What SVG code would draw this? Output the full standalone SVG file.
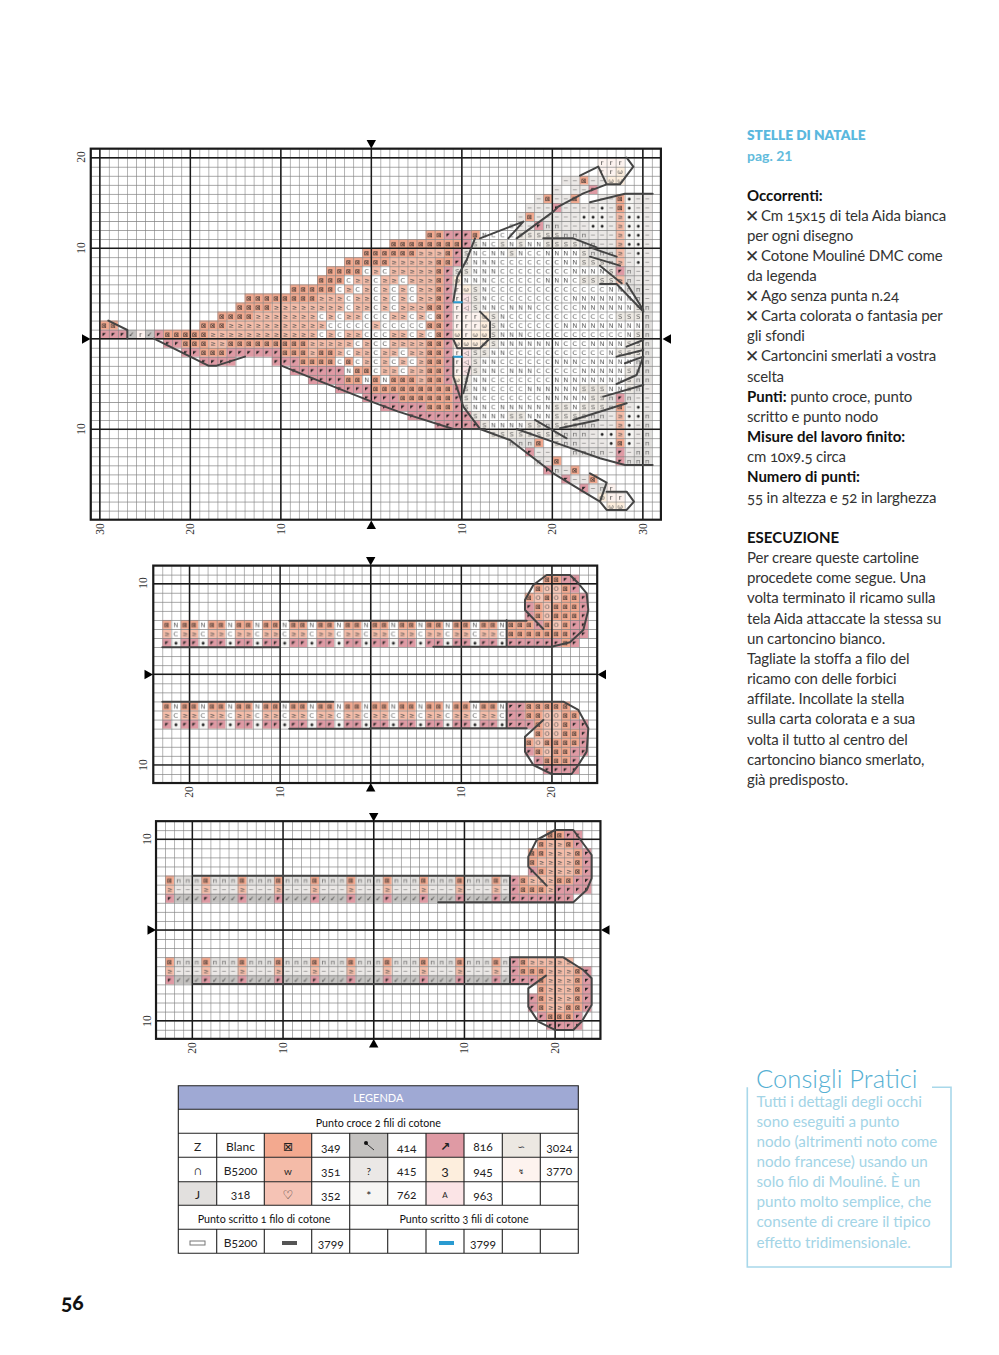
<svg xmlns="http://www.w3.org/2000/svg" width="999" height="1355" viewBox="0 0 999 1355">
<style>
.st path,.st rect{fill:none;stroke-width:1}
.g{font:.72px "DejaVu Sans",sans-serif;text-anchor:middle}
.lg{fill:#555}.dk{fill:#222}
.a{stroke:url(#a)}.b{stroke:url(#b)}.h{stroke:url(#h)}.d{stroke:url(#d)}.n{stroke:url(#n)}.c{stroke:url(#c)}.s{stroke:url(#s)}.q{stroke:url(#q)}.t{stroke:url(#t)}.k{stroke:url(#k)}.r{stroke:url(#r)}.m{stroke:url(#m)}.f{stroke:url(#f)}.gg{stroke:url(#gg)}
.st .heavy{fill:none;stroke:#1a1a1a;stroke-width:.16}
.ol{fill:none;stroke:#444;stroke-width:6;stroke-linejoin:round;stroke-linecap:round}
.tick{font:11.5px "Liberation Serif",serif;fill:#333;text-anchor:middle}
.tb{font:12px Lato,sans-serif;fill:#222;text-anchor:middle;font-variant-numeric:oldstyle-nums}
.sub{font:10.7px Lato,sans-serif;fill:#111;text-anchor:middle;font-variant-numeric:oldstyle-nums}
.side{font:15px Lato,sans-serif;letter-spacing:-.15px;fill:#333;font-variant-numeric:oldstyle-nums}
.bold{font-weight:700;fill:#111;letter-spacing:0}
.x{font:17px "DejaVu Sans",sans-serif;fill:#333}
.tip{font:15.2px Lato,sans-serif;fill:#a3d4e6}
</style>
<defs>
<pattern id="grid" width="1" height="1" patternUnits="userSpaceOnUse"><path d="M0 0H1M0 0V1" fill="none" stroke="#808080" stroke-width=".13"/></pattern>
<pattern id="a" width="1" height="1" patternUnits="userSpaceOnUse"><rect width="1" height="1" fill="#f2a98f"/><text x=".5" y=".78" class="g dk">⊠</text></pattern>
<pattern id="b" width="1" height="1" patternUnits="userSpaceOnUse"><rect width="1" height="1" fill="#f5bda9"/><text x=".5" y=".78" class="g lg">≥</text></pattern>
<pattern id="h" width="1" height="1" patternUnits="userSpaceOnUse"><rect width="1" height="1" fill="#f6c6b6"/><text x=".5" y=".78" class="g lg">O</text></pattern>
<pattern id="d" width="1" height="1" patternUnits="userSpaceOnUse"><rect width="1" height="1" fill="#df9aa4"/><text x=".5" y=".7" class="g dk" style="font-size:.5px">◤</text></pattern>
<pattern id="n" width="1" height="1" patternUnits="userSpaceOnUse"><rect width="1" height="1" fill="#fff"/><text x=".5" y=".78" class="g lg">N</text></pattern>
<pattern id="c" width="1" height="1" patternUnits="userSpaceOnUse"><rect width="1" height="1" fill="#fff"/><text x=".5" y=".78" class="g lg">C</text></pattern>
<pattern id="s" width="1" height="1" patternUnits="userSpaceOnUse"><rect width="1" height="1" fill="#ece8e2"/><text x=".5" y=".78" class="g lg">S</text></pattern>
<pattern id="q" width="1" height="1" patternUnits="userSpaceOnUse"><rect width="1" height="1" fill="#ebe8e6"/><text x=".5" y=".74" class="g lg">~</text></pattern>
<pattern id="t" width="1" height="1" patternUnits="userSpaceOnUse"><rect width="1" height="1" fill="#f6f5f3"/><text x=".5" y=".66" class="g dk" style="font-size:.42px">●</text></pattern>
<pattern id="k" width="1" height="1" patternUnits="userSpaceOnUse"><rect width="1" height="1" fill="#e2e0de"/><text x=".5" y=".74" class="g lg">п</text></pattern>
<pattern id="r" width="1" height="1" patternUnits="userSpaceOnUse"><rect width="1" height="1" fill="#fdf3ef"/><text x=".5" y=".74" class="g dk">r</text></pattern>
<pattern id="m" width="1" height="1" patternUnits="userSpaceOnUse"><rect width="1" height="1" fill="#fdeedd"/><text x=".5" y=".74" class="g lg">ω</text></pattern>
<pattern id="f" width="1" height="1" patternUnits="userSpaceOnUse"><rect width="1" height="1" fill="#fbe4e6"/><text x=".5" y=".74" class="g lg">◁</text></pattern>
<pattern id="gg" width="1" height="1" patternUnits="userSpaceOnUse"><rect width="1" height="1" fill="#c4c2c0"/><text x=".5" y=".78" class="g dk">✓</text></pattern>
<pattern id="p2" x="1" width="3" height="3" patternUnits="userSpaceOnUse"><g class="st"><path class="a" d="M0 .5h1M2 .5h1"/><path class="n" d="M1 .5h1"/><path class="b" d="M0 1.5h1M2 1.5h1"/><path class="c" d="M1 1.5h1"/><path class="d" d="M0 2.5h1M2 2.5h1"/><path class="t" d="M1 2.5h1"/></g></pattern>
<pattern id="p3" x="1" width="4" height="3" patternUnits="userSpaceOnUse"><g class="st"><path class="a" d="M0 .5h1"/><path class="k" d="M1 .5h3"/><path class="b" d="M0 1.5h1"/><path class="q" d="M1 1.5h3"/><path class="d" d="M0 2.5h1"/><path class="gg" d="M1 2.5h3"/></g></pattern>
<path id="tri" d="M-4.7-8.5h9.4L0 0z"/>
</defs>
<rect width="999" height="1355" fill="#fff"/>

<g id="chart1">
<g transform="translate(371.3 338.7) scale(9.05)" class="st">
<path class="a" d="M23-17.5h1M19-15.5h1M22-15.5h1M27-15.5h1M27-14.5h1M17-13.5h1M6-11.5h2M11-11.5h1M2-10.5h8M-1-9.5h6M8-9.5h1M-3-8.5h5M7-8.5h2M-5-7.5h4M7-7.5h1M-6-6.5h3M7-6.5h1M-9-5.5h5M7-5.5h1M-14-4.5h8M7-4.5h1M-15-3.5h4M6-3.5h2M-17-2.5h4M7-2.5h1M-30-1.5h2M-19-1.5h3M6-1.5h2M-23-.5h5M7-.5h1M-21 .5h3M-16 .5h9M6 .5h2M-19 1.5h3M-10 1.5h3M-6 1.5h2M6 1.5h2M-8 2.5h4M-3 2.5h1M6 2.5h2M-2 3.5h2M6 3.5h2M-3 4.5h2M0 4.5h1M2 4.5h3M6 4.5h2M0 5.5h9M3 6.5h6M6 7.5h3M27 7.5h1M18 11.5h1M27 11.5h1M20 13.5h1M22 14.5h1M24 15.5h1"/>
<path class="b" d="M27-13.5h1M27-12.5h1M27-11.5h1M27-10.5h1M5-9.5h3M27-9.5h1M2-8.5h5M27-8.5h1M0-7.5h1M2-7.5h5M-2-6.5h2M1-6.5h2M4-6.5h3M27-6.5h1M-3-5.5h1M-1-5.5h1M1-5.5h1M3-5.5h1M5-5.5h2M-6-4.5h3M-2-4.5h2M1-4.5h1M3-4.5h1M5-4.5h2M-11-3.5h8M-2-3.5h2M1-3.5h1M3-3.5h3M-13-2.5h7M-5-2.5h1M-3-2.5h2M2-2.5h2M5-2.5h1M-16-1.5h11M0-1.5h1M-18-.5h12M-5-.5h1M-3-.5h2M2-.5h2M5-.5h1M-18 .5h2M-7 .5h5M-1 .5h1M2 .5h4M-7 1.5h1M-4 1.5h1M-2 1.5h2M1 1.5h2M4 1.5h2M-1 2.5h1M1 2.5h1M3 2.5h1M5 2.5h1M1 3.5h2M4 3.5h2M5 4.5h1M27 8.5h1M27 9.5h1M27 10.5h1"/>
<path class="c" d="M15-12.5h1M13-11.5h3M13-10.5h1M12-9.5h1M17-9.5h2M14-8.5h7M-1-7.5h1M1-7.5h1M14-7.5h8M-3-6.5h1M0-6.5h1M3-6.5h1M13-6.5h6M22-6.5h1M-4-5.5h1M-2-5.5h1M0-5.5h1M2-5.5h1M4-5.5h1M13-5.5h13M-3-4.5h1M0-4.5h1M2-4.5h1M4-4.5h1M13-4.5h9M-3-3.5h1M0-3.5h1M2-3.5h1M14-3.5h1M18-3.5h5M-6-2.5h1M-4-2.5h1M-1-2.5h3M4-2.5h1M6-2.5h1M15-2.5h12M-5-1.5h5M1-1.5h5M15-1.5h6M-6-.5h1M-4-.5h1M-1-.5h3M4-.5h1M6-.5h1M17-.5h11M-2 .5h1M0 .5h2M21 .5h3M-3 1.5h1M0 1.5h1M3 1.5h1M15 1.5h11M-4 2.5h1M-2 2.5h1M0 2.5h1M2 2.5h1M4 2.5h1M14 2.5h6M23 2.5h1M0 3.5h1M3 3.5h1M14 3.5h1M18 3.5h5M13 4.5h7M13 5.5h4M12 6.5h7M13 7.5h1"/>
<path class="n" d="M12-11.5h1M12-10.5h1M15-10.5h1M17-10.5h2M11-9.5h1M13-9.5h2M16-9.5h1M19-9.5h4M11-8.5h3M21-8.5h2M11-7.5h3M22-7.5h4M10-6.5h3M19-6.5h3M12-5.5h1M26-5.5h2M12-4.5h1M22-4.5h7M12-3.5h2M15-3.5h3M23-3.5h6M14-2.5h1M14-1.5h1M21-1.5h9M14-.5h3M28-.5h1M14 .5h7M24 .5h4M13 1.5h2M26 1.5h1M12 2.5h2M20 2.5h3M24 2.5h5M-3 3.5h1M12 3.5h2M15 3.5h3M23 3.5h5M-1 4.5h1M1 4.5h1M11 4.5h2M20 4.5h8M11 5.5h2M17 5.5h6M26 5.5h2M11 6.5h1M19 6.5h5M11 7.5h2M14 7.5h6M22 7.5h1M12 8.5h3M17 8.5h3M13 9.5h4"/>
<path class="s" d="M16-11.5h5M11-10.5h1M14-10.5h1M16-10.5h1M19-10.5h4M10-9.5h1M15-9.5h1M23-9.5h1M10-8.5h1M23-8.5h3M9-7.5h2M26-7.5h1M23-6.5h4M11-5.5h1M11-4.5h1M11-3.5h1M29-3.5h1M13-2.5h1M27-2.5h3M13-1.5h1M13-.5h1M29-.5h1M13 .5h1M28 .5h2M11 1.5h2M27 1.5h3M11 2.5h1M11 3.5h1M28 3.5h1M10 4.5h1M28 4.5h1M10 5.5h1M23 5.5h3M28 5.5h1M10 6.5h1M24 6.5h2M10 7.5h1M20 7.5h2M23 7.5h3M11 8.5h1M15 8.5h2M20 8.5h4M12 9.5h1M17 9.5h2M20 9.5h3M13 10.5h8M20 11.5h1"/>
<path class="d" d="M24-16.5h1M20-14.5h1M18-12.5h1M8-11.5h3M10-10.5h1M9-9.5h1M9-8.5h1M8-7.5h1M27-7.5h1M8-6.5h1M8-5.5h1M8-4.5h1M8-3.5h1M8-2.5h1M8-1.5h1M-30-.5h3M-24-.5h1M8-.5h1M-23 .5h2M8 .5h1M-21 1.5h2M-16 1.5h6M8 1.5h1M-19 2.5h4M-11 2.5h3M8 2.5h1M-9 3.5h6M8 3.5h1M-7 4.5h4M8 4.5h1M-4 5.5h4M9 5.5h1M-1 6.5h4M9 6.5h1M27 6.5h1M1 7.5h5M9 7.5h1M4 8.5h7M7 9.5h5M17 12.5h1M27 12.5h1M27 13.5h1M19 14.5h1M21 15.5h1M23 16.5h1"/>
<path class="q" d="M21-17.5h2M24-17.5h2M20-16.5h1M22-16.5h2M18-15.5h1M20-15.5h2M25-15.5h2M29-15.5h2M17-14.5h3M21-14.5h4M26-14.5h1M29-14.5h2M16-13.5h1M18-13.5h5M26-13.5h1M30-13.5h1M16-12.5h2M21-12.5h3M26-12.5h1M30-12.5h1M24-11.5h3M30-11.5h1M25-10.5h2M30-10.5h1M28-9.5h1M30-9.5h1M28-8.5h1M30-8.5h1M29-7.5h2M29-6.5h2M30-5.5h1M30-4.5h1M30 5.5h1M29 6.5h2M28 7.5h1M30 7.5h1M26 8.5h1M25 9.5h2M29 9.5h1M24 10.5h1M29 10.5h1M23 11.5h3M29 11.5h1M18 12.5h2M26 12.5h1M28 12.5h1M19 13.5h1M21 14.5h1M22 15.5h2M24 16.5h1"/>
<path class="t" d="M28-15.5h1M25-14.5h1M28-14.5h1M23-13.5h3M28-13.5h2M24-12.5h2M28-12.5h2M28-11.5h2M28-10.5h2M29-9.5h1M29-8.5h1M29 7.5h1M28 8.5h2M28 9.5h1M25 10.5h2M28 10.5h1M26 11.5h1M28 11.5h1"/>
<path class="k" d="M19-12.5h2M21-11.5h3M23-10.5h2M24-9.5h3M26-8.5h1M28-7.5h1M28-6.5h1M28-5.5h2M29-4.5h1M30-3.5h1M30-2.5h1M30-1.5h1M30-.5h1M30 .5h1M30 1.5h1M29 2.5h2M29 3.5h2M29 4.5h2M29 5.5h1M26 6.5h1M28 6.5h1M26 7.5h1M24 8.5h2M30 8.5h1M19 9.5h1M23 9.5h2M30 9.5h1M21 10.5h3M30 10.5h1M15 11.5h3M21 11.5h2M30 11.5h1M22 12.5h4M29 12.5h2M18 13.5h1M28 13.5h3M20 14.5h1M25 16.5h1"/>
<path class="r" d="M25-19.5h3M25-18.5h2M9-5.5h1M9-4.5h1M9-3.5h1M9-2.5h3M9-1.5h3M-26-.5h1M10-.5h1M9 1.5h1M9 2.5h1M9 3.5h1M26 16.5h1M26 17.5h2"/>
<path class="m" d="M27-18.5h1M26-17.5h2M9-6.5h1M10-5.5h1M12-2.5h1M12-1.5h1M9-.5h1M11-.5h2M9 .5h4M9 4.5h1M25 17.5h1M26 18.5h2"/>
<path class="f" d="M10-4.5h1M10-3.5h1M10 1.5h1M10 2.5h1M10 3.5h1"/>
<path class="gg" d="M-27-.5h1M-25-.5h1"/>
<rect x="-31" y="-21" width="63" height="41" style="fill:url(#grid);stroke:none"/>
<path class="heavy" d="M-30-21V20M-20-21V20M-10-21V20M0-21V20M10-21V20M20-21V20M30-21V20M-31-20H32M-31-10H32M-31 0H32M-31 10H32"/>
<rect x="-31" y="-21" width="63" height="41" style="fill:none;stroke:#1a1a1a;stroke-width:.24"/>
</g>
<g transform="translate(70 130) scale(.3333)"><path class="ol" d="M115 572L172 600V626M252 626L415 707H440L525 680M634 707L715 740L905 815"/></g>
<g transform="translate(370 130) scale(.3333)">
<path class="ol" d="M330 325L460 275L415 325M440 325L550 245L565 230L640 190L710 163L685 110L630 137M710 163H750L790 110L770 83M660 217L765 191H848M520 325H610L680 352M660 352L740 380M660 380L750 407M690 407L755 460M690 462H740L820 545M770 460L820 540M250 515L262 440L290 390L315 325M330 545L360 575V625L330 655H262L250 628M250 680V740L280 830L330 897H345M300 710L280 790M770 650L820 630M740 680L820 660M765 700L820 680L800 735L740 762M700 800L820 765M610 870L770 820M570 895L685 870M495 870L590 925M440 897L590 950L690 985L765 1005H848M4 815L85 845L250 897H330L420 930L550 1030L640 1085L690 1115L710 1058L660 1030M690 1115L710 1140H770L792 1115L770 1085H710"/>
<path d="M250 517H278M250 680H278" fill="none" stroke="#2a9bd1" stroke-width="6"/>
</g>
<use href="#tri" x="371.3" y="148.5"/>
<use href="#tri" transform="translate(371.3 520.5) scale(1 -1)"/>
<use href="#tri" transform="translate(90.5 339) rotate(-90)"/>
<use href="#tri" transform="translate(662.5 339) rotate(90)"/>
<text class="tick" transform="translate(85 157) rotate(-90)">20</text>
<text class="tick" transform="translate(85 248) rotate(-90)">10</text>
<text class="tick" transform="translate(85 429) rotate(-90)">10</text>
<text class="tick" transform="translate(104 529) rotate(-90)">30</text>
<text class="tick" transform="translate(194 529) rotate(-90)">20</text>
<text class="tick" transform="translate(285 529) rotate(-90)">10</text>
<text class="tick" transform="translate(466 529) rotate(-90)">10</text>
<text class="tick" transform="translate(556 529) rotate(-90)">20</text>
<text class="tick" transform="translate(647 529) rotate(-90)">30</text>
</g>

<g id="chart2">
<g transform="translate(370.7 674.3) scale(9.06)" class="st">
<rect x="-23" y="-6" width="38" height="3" style="fill:url(#p2);stroke:none"/>
<rect x="-23" y="3" width="38" height="3" style="fill:url(#p2);stroke:none"/>
<path class="a" d="M19-10.5h2M18-9.5h1M21-9.5h1M17-8.5h1M19-8.5h1M21-8.5h2M18-7.5h1M20-7.5h3M18-6.5h1M20-6.5h3M15-5.5h3M19-5.5h1M21-5.5h1M15-4.5h7M21-3.5h1M17 3.5h5M17 4.5h2M21 4.5h2M18 5.5h1M21 5.5h1M18 6.5h1M21 6.5h2M17 7.5h1M19 7.5h4M18 8.5h1M20 8.5h2M19 9.5h3"/>
<path class="d" d="M21-10.5h2M22-9.5h1M23-8.5h1M17-7.5h1M23-7.5h1M17-6.5h1M23-6.5h1M18-5.5h1M22-5.5h2M22-4.5h2M15-3.5h6M22-3.5h1M15 3.5h2M15 4.5h2M15 5.5h3M22 5.5h2M23 6.5h1M23 7.5h1M17 8.5h1M22 8.5h2M18 9.5h1M22 9.5h1M19 10.5h4"/>
<path class="h" d="M19-9.5h2M18-8.5h1M20-8.5h1M19-7.5h1M19-6.5h1M20-5.5h1M19 4.5h2M19 5.5h2M19 6.5h2M18 7.5h1M19 8.5h1"/>
<rect x="-24" y="-12" width="49" height="24" style="fill:url(#grid);stroke:none"/>
<path class="heavy" d="M-20-12V12M-10-12V12M0-12V12M10-12V12M20-12V12M-24-10H25M-24 0H25M-24 10H25"/>
<rect x="-24" y="-12" width="49" height="24" style="fill:none;stroke:#1a1a1a;stroke-width:.24"/>
</g>
<g transform="translate(130 555) scale(.3333)"><path class="ol" d="M478 197H720M97 277H450M97 440H610M478 521H720"/></g>
<g transform="translate(370 555) scale(.3333)"><path class="ol" d="M0 197H470M520 222L465 165V135L490 90L530 60H600L625 85L650 115L655 165L640 225L600 262L545 275H190M410 195V275M300 440H580L625 465L655 520L650 590L625 630L605 657H545L490 630L465 590V545L520 495M410 440V520H470M0 520H410"/></g>
<use href="#tri" x="370.7" y="565.5"/>
<use href="#tri" transform="translate(370.7 783) scale(1 -1)"/>
<use href="#tri" transform="translate(153 674.5) rotate(-90)"/>
<use href="#tri" transform="translate(597.5 674.5) rotate(90)"/>
<text class="tick" transform="translate(147 583) rotate(-90)">10</text>
<text class="tick" transform="translate(147 765) rotate(-90)">10</text>
<text class="tick" transform="translate(193 792) rotate(-90)">20</text>
<text class="tick" transform="translate(284 792) rotate(-90)">10</text>
<text class="tick" transform="translate(465 792) rotate(-90)">10</text>
<text class="tick" transform="translate(555 792) rotate(-90)">20</text>
</g>

<g id="chart3">
<g transform="translate(373.7 930) scale(9.07)" class="st">
<rect x="-23" y="-6" width="38" height="3" style="fill:url(#p3);stroke:none"/>
<rect x="-23" y="3" width="38" height="3" style="fill:url(#p3);stroke:none"/>
<path class="a" d="M19-10.5h2M18-9.5h1M21-9.5h1M17-8.5h2M22-8.5h1M17-7.5h1M22-7.5h1M18-6.5h1M22-6.5h1M16-5.5h1M20-5.5h2M16-4.5h3M16 3.5h1M16 4.5h3M22 4.5h1M18 5.5h1M22 5.5h1M18 6.5h1M22 6.5h1M18 7.5h1M22 7.5h1M18 8.5h1M21 8.5h2M19 9.5h3"/>
<path class="b" d="M19-9.5h2M19-8.5h3M18-7.5h4M19-6.5h3M17-5.5h3M19-4.5h1M17 3.5h5M19 4.5h3M19 5.5h3M19 6.5h3M19 7.5h3M19 8.5h2"/>
<path class="d" d="M21-10.5h2M22-9.5h1M23-8.5h1M23-7.5h1M17-6.5h1M23-6.5h1M15-5.5h1M22-5.5h2M15-4.5h1M20-4.5h4M15-3.5h7M15 3.5h1M15 4.5h1M23 4.5h1M15 5.5h3M23 5.5h1M23 6.5h1M17 7.5h1M23 7.5h1M17 8.5h1M23 8.5h1M18 9.5h1M22 9.5h1M19 10.5h4"/>
<rect x="-24" y="-12" width="49" height="24" style="fill:url(#grid);stroke:none"/>
<path class="heavy" d="M-20-12V12M-10-12V12M0-12V12M10-12V12M20-12V12M-24-10H25M-24 0H25M-24 10H25"/>
<rect x="-24" y="-12" width="49" height="24" style="fill:none;stroke:#1a1a1a;stroke-width:.24"/>
</g>
<g transform="translate(380 815) scale(.3333)"><path class="ol" d="M500 212L445 155V125L470 75L525 45H580L635 120V190L620 225L580 262H175M-560 182H390V262M390 427H550L610 465L635 490V570L605 620L580 645H525L475 620L445 575V520L498 482M390 427V507H-560M390 507H445"/></g>
<use href="#tri" x="373.7" y="821.5"/>
<use href="#tri" transform="translate(373.7 1039) scale(1 -1)"/>
<use href="#tri" transform="translate(156 930) rotate(-90)"/>
<use href="#tri" transform="translate(601 930) rotate(90)"/>
<text class="tick" transform="translate(151 839) rotate(-90)">10</text>
<text class="tick" transform="translate(151 1021) rotate(-90)">10</text>
<text class="tick" transform="translate(196 1048) rotate(-90)">20</text>
<text class="tick" transform="translate(287 1048) rotate(-90)">10</text>
<text class="tick" transform="translate(468 1048) rotate(-90)">10</text>
<text class="tick" transform="translate(559 1048) rotate(-90)">20</text>
</g>

<g id="legend">
<rect x="178.3" y="1085.7" width="400" height="23.6" fill="#9fa9d4"/>
<rect x="178.3" y="1181.7" width="38.4" height="23.6" fill="#e2e0de"/>
<rect x="264.3" y="1133.3" width="47.4" height="24" fill="#f3a98f"/>
<rect x="264.3" y="1157.3" width="47.4" height="24.4" fill="#f4bba8"/>
<rect x="264.3" y="1181.7" width="47.4" height="23.6" fill="#f5c3b5"/>
<rect x="349.7" y="1133.3" width="38" height="24" fill="#c4c2c0"/>
<rect x="349.7" y="1157.3" width="38" height="24.4" fill="#ebe8e6"/>
<rect x="349.7" y="1181.7" width="38" height="23.6" fill="#f6f5f3"/>
<rect x="426" y="1133.3" width="38" height="24" fill="#df9aa4"/>
<rect x="426" y="1157.3" width="38" height="24.4" fill="#fdeedd"/>
<rect x="426" y="1181.7" width="38" height="23.6" fill="#fbe4e6"/>
<rect x="502.3" y="1133.3" width="38" height="24" fill="#ece8e2"/>
<rect x="502.3" y="1157.3" width="38" height="24.4" fill="#fdf3ef"/>
<path d="M178.3 1085.7H578.3V1253.3H178.3ZM178.3 1109.3H578.3M178.3 1133.3H578.3M178.3 1157.3H578.3M178.3 1181.7H578.3M178.3 1205.3H578.3M178.3 1229.3H578.3M216.7 1133.3V1205.3M264.3 1133.3V1205.3M311.7 1133.3V1205.3M349.7 1133.3V1253.3M387.7 1133.3V1205.3M426 1133.3V1205.3M464 1133.3V1205.3M502.3 1133.3V1205.3M540.3 1133.3V1205.3M216.7 1229.3V1253.3M264.3 1229.3V1253.3M311.7 1229.3V1253.3M387.7 1229.3V1253.3M426 1229.3V1253.3M464 1229.3V1253.3M502.3 1229.3V1253.3M540.3 1229.3V1253.3" fill="none" stroke="#222" stroke-width="1.1"/>
<text class="sub" x="378.3" y="1102" style="fill:#fff;font-size:11px">LEGENDA</text>
<text class="sub" x="378.3" y="1127">Punto croce 2 fili di cotone</text>
<text class="sub" x="264" y="1223">Punto scritto 1 filo di cotone</text>
<text class="sub" x="464" y="1223">Punto scritto 3 fili di cotone</text>
<text class="tb" x="197.5" y="1151">Z</text><text class="tb" x="240.5" y="1151">Blanc</text><text class="tb" x="288" y="1151" style="font-family:'DejaVu Sans'">⊠</text><text class="tb" x="330.7" y="1152">349</text>
<path d="M365 1142.5L374 1150" stroke="#333" stroke-width="1"/><circle cx="366" cy="1143" r="2" fill="#111"/>
<text class="tb" x="406.8" y="1152">414</text><text class="tb" x="445" y="1151" style="font-family:'DejaVu Sans';font-weight:700">↗</text><text class="tb" x="483" y="1151">816</text><text class="tb" x="521.3" y="1150" style="font-family:'DejaVu Sans';font-size:9px">∽</text><text class="tb" x="559.3" y="1152">3024</text>
<text class="tb" x="197.5" y="1175">∩</text><text class="tb" x="240.5" y="1175">B5200</text><text class="tb" x="288" y="1175" style="font-size:10px">w</text><text class="tb" x="330.7" y="1176">351</text><text class="tb" x="368.7" y="1175" style="font-size:10px">?</text><text class="tb" x="406.8" y="1175">415</text><text class="tb" x="445" y="1176" style="font-size:14px">3</text><text class="tb" x="483" y="1176">945</text><text class="tb" x="521.3" y="1174" style="font-family:'DejaVu Sans';font-size:7px">↯</text><text class="tb" x="559.3" y="1175">3770</text>
<text class="tb" x="197.5" y="1199">J</text><text class="tb" x="240.5" y="1199">318</text><text class="tb" x="288" y="1199" style="font-family:'DejaVu Sans'">♡</text><text class="tb" x="330.7" y="1200">352</text><text class="tb" x="368.7" y="1200">*</text><text class="tb" x="406.8" y="1199">762</text><text class="tb" x="445" y="1198" style="font-size:8px">A</text><text class="tb" x="483" y="1200">963</text>
<rect x="190" y="1241" width="15" height="4" fill="#fff" stroke="#777"/><text class="tb" x="240.5" y="1247">B5200</text><rect x="282" y="1241" width="15" height="4" fill="#555"/><text class="tb" x="330.7" y="1248">3799</text><rect x="439" y="1241" width="15" height="4" fill="#2a9bd1"/><text class="tb" x="483" y="1248">3799</text>
</g>

<g id="side">
<text x="747" y="140" style="font:800 13.7px Lato,sans-serif;fill:#5bb8de">STELLE DI NATALE</text>
<text x="747" y="161" style="font:700 14px Lato,sans-serif;fill:#62bbdc">pag. 21</text>
<text class="side bold" x="747" y="201">Occorrenti:</text>
<text class="x" x="745" y="222">✕</text><text class="side" x="761" y="221">Cm 15x15 di tela Aida bianca</text>
<text class="side" x="747" y="241">per ogni disegno</text>
<text class="x" x="745" y="262">✕</text><text class="side" x="761" y="261">Cotone Mouliné DMC come</text>
<text class="side" x="747" y="281">da legenda</text>
<text class="x" x="745" y="302">✕</text><text class="side" x="761" y="301">Ago senza punta n.24</text>
<text class="x" x="745" y="322">✕</text><text class="side" x="761" y="321">Carta colorata o fantasia per</text>
<text class="side" x="747" y="341">gli sfondi</text>
<text class="x" x="745" y="362">✕</text><text class="side" x="761" y="361">Cartoncini smerlati a vostra</text>
<text class="side" x="747" y="382">scelta</text>
<text class="side" x="747" y="402"><tspan class="bold">Punti:</tspan> punto croce, punto</text>
<text class="side" x="747" y="422">scritto e punto nodo</text>
<text class="side bold" x="747" y="442">Misure del lavoro finito:</text>
<text class="side" x="747" y="462">cm 10x9.5 circa</text>
<text class="side bold" x="747" y="482">Numero di punti:</text>
<text class="side" x="747" y="503">55 in altezza e 52 in larghezza</text>
<text class="side bold" x="747" y="543">ESECUZIONE</text>
<text class="side" x="747" y="563">Per creare queste cartoline</text>
<text class="side" x="747" y="583">procedete come segue. Una</text>
<text class="side" x="747" y="603">volta terminato il ricamo sulla</text>
<text class="side" x="747" y="624">tela Aida attaccate la stessa su</text>
<text class="side" x="747" y="644">un cartoncino bianco.</text>
<text class="side" x="747" y="664">Tagliate la stoffa a filo del</text>
<text class="side" x="747" y="684">ricamo con delle forbici</text>
<text class="side" x="747" y="704">affilate. Incollate la stella</text>
<text class="side" x="747" y="724">sulla carta colorata e a sua</text>
<text class="side" x="747" y="745">volta il tutto al centro del</text>
<text class="side" x="747" y="765">cartoncino bianco smerlato,</text>
<text class="side" x="747" y="785">già predisposto.</text>
</g>

<g id="tip">
<path d="M932 1087.3H951V1267H747.3V1087.3" fill="none" stroke="#a8d8ea" stroke-width="1.6"/>
<text x="756" y="1088" style="font:300 25.6px Lato,sans-serif;fill:#55b0d3">Consigli Pratici</text>
<text class="tip" x="756.5" y="1107">Tutti i dettagli degli occhi</text>
<text class="tip" x="756.5" y="1127">sono eseguiti a punto</text>
<text class="tip" x="756.5" y="1147">nodo (altrimenti noto come</text>
<text class="tip" x="756.5" y="1167">nodo francese) usando un</text>
<text class="tip" x="756.5" y="1187">solo filo di Mouliné. È un</text>
<text class="tip" x="756.5" y="1207">punto molto semplice, che</text>
<text class="tip" x="756.5" y="1227">consente di creare il tipico</text>
<text class="tip" x="756.5" y="1248">effetto tridimensionale.</text>
</g>
<text id="page" x="61" y="1310" style="font:900 21px Lato,sans-serif;fill:#111;font-variant-numeric:oldstyle-nums">56</text>
</svg>
